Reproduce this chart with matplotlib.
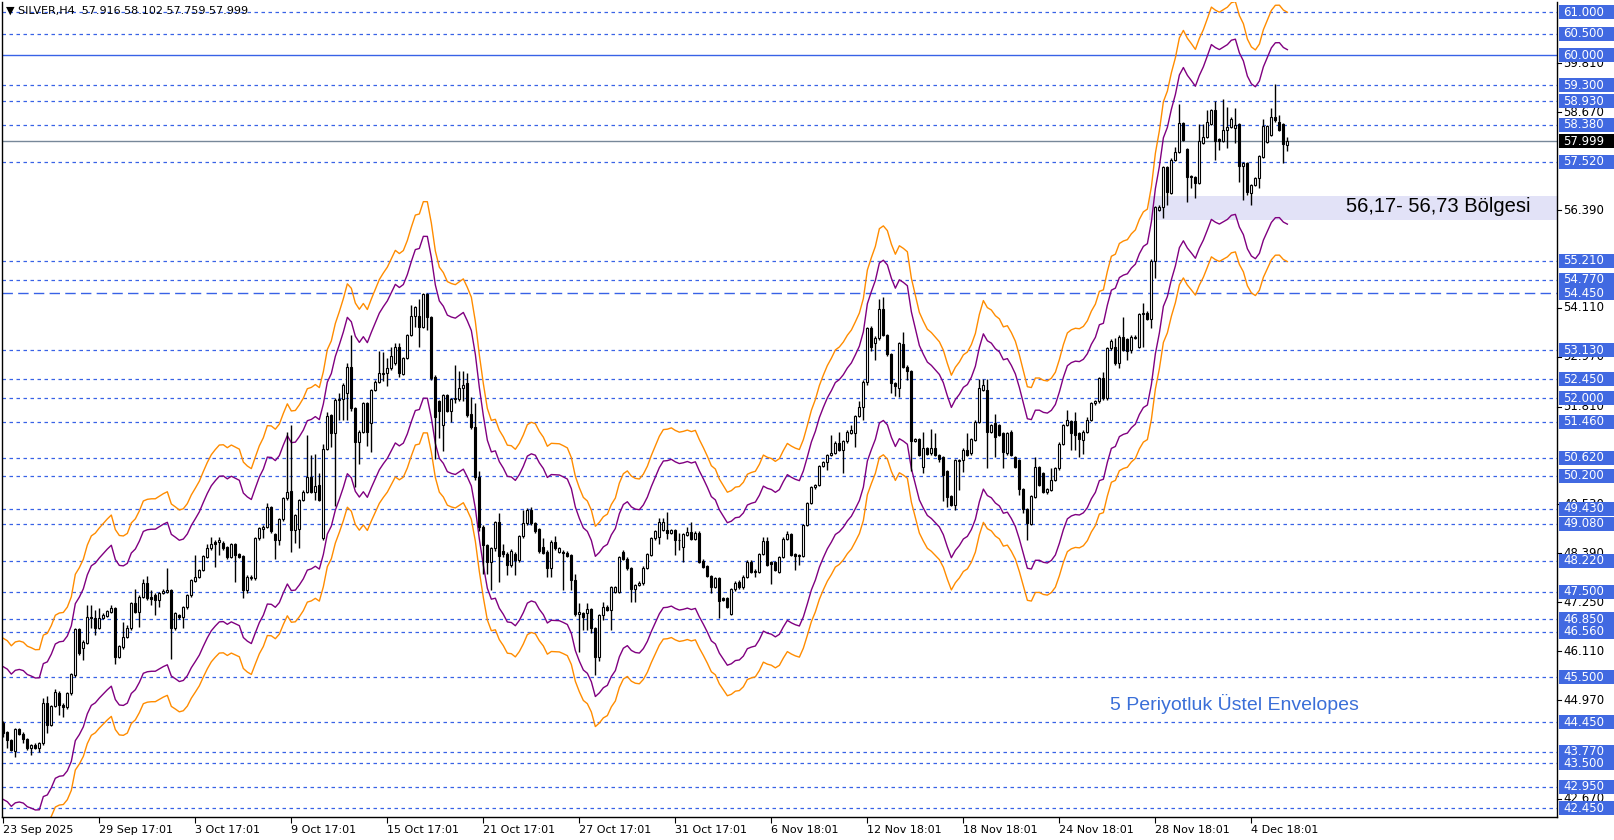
import numpy as np
import pandas as pd
import matplotlib
matplotlib.use("Agg")
import matplotlib.pyplot as plt
from matplotlib.patches import Rectangle
from matplotlib.transforms import blended_transform_factory

# SILVER H4 candles (bar 0 = 23 Sep 2025 17:01)
opens = [
    44.43, 44.23, 44.04, 43.79, 44.29, 44.19, 44.06, 43.85, 43.93, 43.86,
    43.96, 44.91, 44.39, 44.83, 45.13, 44.86, 44.80, 45.13, 45.56, 46.62,
    46.18, 46.31, 46.90, 46.88, 46.66, 46.88, 46.93, 47.03, 47.11, 45.97,
    46.20, 46.45, 46.64, 47.23, 47.03, 47.38, 47.69, 47.38, 47.43, 47.30,
    47.47, 47.50, 47.54, 46.64, 46.95, 46.91, 47.13, 47.42, 47.75, 47.85,
    48.00, 48.31, 48.51, 48.66, 48.66, 48.64, 48.54, 48.31, 48.61, 48.37,
    48.33, 47.54, 47.81, 47.81, 48.74, 48.95, 49.01, 49.46, 48.84, 48.70,
    49.18, 49.67, 49.85, 48.93, 48.95, 49.63, 49.83, 50.16, 49.81, 49.98,
    48.75, 50.82, 51.61, 51.19, 51.96, 51.98, 52.12, 52.73, 51.77, 50.99,
    51.23, 51.89, 51.42, 52.20, 52.39, 52.57, 52.60, 52.70, 52.82, 53.19,
    52.58, 52.94, 53.48, 53.92, 53.92, 53.67, 54.44, 53.89, 52.51, 51.93,
    51.38, 52.08, 51.72, 51.98, 51.98, 52.24, 52.35, 51.64, 51.34, 50.16,
    49.00, 48.58, 48.20, 48.51, 49.11, 48.45, 48.38, 48.12, 48.38, 48.24,
    48.79, 49.09, 49.40, 49.10, 48.95, 48.55, 48.43, 48.06, 48.66, 48.43,
    48.43, 48.41, 48.35, 47.78, 46.97, 47.00, 47.01, 47.09, 46.64, 45.97,
    46.95, 47.15, 47.07, 47.50, 47.50, 48.43, 48.27, 48.04, 47.55, 47.65,
    47.69, 48.06, 48.35, 48.74, 48.78, 48.93, 48.93, 48.86, 48.93, 48.69,
    48.53, 48.82, 48.88, 48.72, 48.87, 48.22, 48.10, 47.86, 47.61, 47.81,
    47.34, 47.34, 46.98, 47.55, 47.73, 47.60, 47.85, 48.20, 47.99, 47.96,
    48.37, 48.68, 48.19, 48.19, 47.96, 48.31, 48.73, 48.84, 48.37, 48.35,
    48.33, 49.05, 49.56, 49.93, 49.98, 50.43, 50.53, 50.68, 50.74, 50.97,
    50.80, 51.00, 51.20, 51.20, 51.59, 51.81, 52.39, 53.64, 53.30, 53.40,
    54.08, 53.48, 53.04, 52.35, 52.24, 53.27, 52.74, 52.64, 51.02, 51.05,
    50.41, 50.84, 50.72, 50.84, 50.68, 50.64, 50.30, 49.73, 49.52, 50.55,
    50.57, 50.81, 50.72, 51.03, 51.46, 52.20, 52.20, 51.23, 51.42, 51.38,
    51.19, 50.72, 51.23, 50.64, 50.57, 49.88, 49.42, 49.07, 49.71, 50.40,
    50.26, 49.81, 49.87, 50.10, 50.37, 50.94, 51.38, 51.48, 51.48, 51.19,
    51.03, 51.23, 51.50, 51.89, 51.93, 52.47, 52.00, 53.17, 53.19, 52.82,
    53.44, 53.38, 53.13, 53.42, 53.21, 53.97, 54.00, 53.85, 55.21, 56.39,
    56.47, 57.40, 56.80, 57.57, 57.75, 58.41, 57.81, 57.19, 57.16, 57.02,
    57.96, 58.10, 58.40, 58.72, 58.04, 58.01, 58.27, 58.34, 58.30, 58.40,
    57.41, 57.48, 56.78, 56.98, 57.13, 57.64, 57.99, 58.14, 58.57, 58.44,
    58.40, 57.916,
]
highs = [
    44.48, 44.25, 44.06, 44.31, 44.32, 44.22, 44.08, 43.95, 43.96, 43.99,
    45.01, 45.07, 44.86, 45.24, 45.18, 44.90, 45.16, 45.60, 46.65, 46.65,
    46.36, 47.19, 47.19, 47.07, 47.11, 47.00, 47.08, 47.19, 47.15, 46.25,
    46.78, 46.72, 47.26, 47.56, 47.42, 47.79, 47.86, 47.54, 47.46, 47.50,
    47.55, 48.04, 47.57, 47.02, 46.98, 47.16, 47.45, 47.80, 48.35, 48.03,
    48.36, 48.62, 48.76, 48.70, 48.76, 48.67, 48.57, 48.64, 48.64, 48.40,
    48.36, 47.88, 47.88, 48.77, 49.00, 49.04, 49.57, 49.49, 48.87, 49.21,
    49.70, 51.23, 51.38, 49.31, 49.66, 49.86, 51.15, 50.68, 50.71, 50.27,
    50.94, 51.69, 51.65, 52.00, 52.12, 52.35, 52.82, 53.48, 51.80, 51.26,
    51.92, 51.92, 52.23, 52.42, 53.11, 53.09, 52.94, 53.21, 53.30, 53.30,
    52.97, 53.51, 54.18, 54.16, 54.33, 54.47, 54.47, 53.92, 52.54, 51.96,
    52.11, 52.11, 52.02, 52.78, 52.65, 52.65, 52.59, 52.04, 51.90, 50.30,
    49.05, 48.62, 48.55, 49.15, 49.32, 48.60, 48.42, 48.50, 48.42, 48.82,
    49.40, 49.44, 49.48, 49.13, 48.98, 48.74, 48.46, 48.70, 48.79, 48.54,
    48.46, 48.44, 48.38, 47.92, 47.23, 47.03, 47.23, 47.12, 46.67, 46.98,
    47.26, 47.18, 47.63, 47.63, 48.34, 48.46, 48.30, 48.07, 47.68, 47.74,
    48.09, 48.40, 48.77, 48.93, 49.21, 49.21, 49.36, 48.96, 48.96, 48.86,
    48.86, 49.00, 49.11, 48.90, 48.90, 48.25, 48.13, 47.89, 47.84, 47.84,
    47.37, 47.37, 47.58, 47.74, 47.76, 47.88, 48.23, 48.23, 48.02, 48.40,
    48.78, 48.78, 48.22, 48.22, 48.34, 48.76, 48.90, 48.87, 48.40, 48.38,
    49.08, 49.59, 49.96, 50.01, 50.46, 50.54, 50.71, 51.15, 51.00, 51.21,
    51.03, 51.26, 51.38, 51.62, 51.93, 52.42, 53.67, 53.70, 53.45, 54.31,
    54.37, 53.51, 53.07, 52.38, 53.32, 53.56, 52.77, 52.67, 51.08, 51.08,
    51.21, 50.87, 51.30, 51.19, 50.71, 50.67, 50.33, 49.76, 50.60, 50.60,
    50.84, 51.19, 51.08, 51.49, 52.45, 52.45, 52.45, 51.41, 51.65, 51.41,
    51.22, 51.22, 51.26, 50.67, 50.60, 49.91, 49.45, 49.76, 50.64, 50.43,
    50.29, 49.91, 50.37, 50.40, 50.98, 51.41, 51.73, 51.51, 51.69, 51.22,
    51.26, 51.58, 51.92, 51.96, 52.50, 52.62, 53.20, 53.38, 53.40, 53.47,
    53.91, 53.41, 53.47, 53.47, 54.00, 54.22, 54.03, 55.24, 56.49, 56.50,
    57.43, 57.43, 57.60, 57.87, 58.86, 58.45, 57.84, 57.22, 57.19, 58.39,
    58.39, 58.72, 58.75, 58.94, 58.07, 58.97, 58.80, 58.57, 58.76, 58.43,
    57.51, 57.51, 57.01, 57.16, 57.68, 58.51, 58.38, 58.76, 59.33, 58.61,
    58.43, 58.102,
]
lows = [
    44.12, 43.85, 43.78, 43.65, 44.15, 43.96, 43.81, 43.69, 43.84, 43.75,
    43.93, 44.20, 44.36, 44.80, 44.62, 44.58, 44.77, 45.10, 45.50, 46.02,
    45.90, 46.28, 46.64, 46.49, 46.62, 46.85, 46.90, 47.00, 45.81, 45.94,
    46.15, 46.42, 46.60, 47.00, 46.68, 47.35, 47.30, 47.19, 46.95, 47.15,
    47.44, 47.47, 45.92, 46.60, 46.85, 46.64, 47.10, 47.38, 47.72, 47.82,
    47.97, 48.28, 48.48, 48.08, 48.35, 48.48, 48.27, 48.28, 47.73, 48.28,
    47.34, 47.47, 47.78, 47.78, 48.71, 48.74, 48.98, 48.87, 48.27, 48.59,
    49.15, 49.64, 48.43, 48.64, 48.51, 49.60, 49.80, 49.80, 49.63, 49.60,
    48.69, 50.79, 50.88, 49.49, 51.50, 51.50, 51.50, 51.70, 49.94, 50.47,
    51.20, 50.90, 50.76, 52.17, 52.36, 52.40, 52.30, 52.67, 52.79, 52.50,
    52.55, 52.91, 53.45, 53.67, 53.21, 53.64, 53.60, 52.44, 50.60, 51.07,
    50.78, 51.69, 51.45, 51.90, 51.95, 51.93, 51.58, 51.30, 50.10, 48.90,
    47.92, 47.90, 47.54, 48.45, 47.73, 48.30, 47.89, 48.08, 47.89, 48.20,
    48.75, 49.05, 49.05, 48.87, 48.40, 48.38, 47.85, 47.85, 48.48, 48.40,
    47.54, 48.30, 47.54, 46.94, 46.10, 46.60, 46.60, 46.53, 45.55, 45.87,
    46.83, 47.04, 46.60, 47.47, 47.47, 48.24, 48.00, 47.26, 47.26, 47.62,
    47.66, 48.03, 48.32, 48.70, 48.62, 48.90, 48.72, 48.83, 48.35, 48.47,
    48.20, 48.79, 48.69, 48.69, 48.17, 48.05, 47.83, 47.47, 47.58, 46.88,
    47.27, 47.12, 46.95, 47.52, 47.57, 47.57, 47.82, 47.93, 47.85, 47.93,
    48.35, 48.09, 47.67, 47.97, 47.93, 48.28, 48.70, 48.32, 48.00, 48.12,
    48.30, 49.02, 49.53, 49.90, 49.95, 50.40, 50.33, 50.65, 50.71, 50.77,
    50.27, 50.97, 51.17, 50.88, 51.56, 51.51, 52.31, 53.10, 52.90, 53.37,
    53.45, 53.00, 52.12, 52.06, 52.04, 52.71, 52.43, 50.30, 50.99, 50.65,
    50.27, 50.68, 50.69, 50.65, 50.52, 49.60, 49.46, 49.49, 49.40, 49.87,
    50.29, 50.65, 50.69, 51.00, 51.43, 52.17, 50.37, 51.20, 50.64, 51.12,
    50.37, 50.69, 50.65, 50.38, 49.75, 49.34, 48.70, 49.04, 49.68, 49.95,
    49.80, 49.78, 49.84, 50.07, 50.34, 50.92, 51.35, 50.80, 50.80, 50.64,
    50.71, 51.20, 51.47, 51.86, 51.90, 51.97, 51.97, 53.14, 52.79, 52.70,
    53.10, 52.90, 53.05, 53.39, 53.18, 53.21, 53.82, 53.64, 54.80, 56.36,
    56.20, 56.50, 56.77, 57.54, 57.72, 58.00, 56.57, 56.90, 56.67, 56.99,
    57.93, 58.07, 58.37, 57.56, 57.79, 57.98, 57.83, 58.31, 57.95, 57.05,
    56.63, 56.74, 56.51, 56.95, 56.90, 57.61, 57.96, 58.11, 58.45, 58.23,
    57.50, 57.759,
]
closes = [
    44.20, 44.04, 43.81, 44.29, 44.18, 44.06, 43.85, 43.92, 43.86, 43.96,
    44.91, 44.39, 44.83, 45.17, 44.86, 44.80, 45.13, 45.58, 46.62, 46.06,
    46.33, 46.90, 46.88, 46.66, 46.88, 46.95, 47.05, 47.11, 45.97, 46.22,
    46.45, 46.64, 47.23, 47.03, 47.38, 47.69, 47.36, 47.32, 47.30, 47.47,
    47.52, 47.54, 46.64, 46.99, 46.91, 47.13, 47.42, 47.77, 47.83, 48.00,
    48.33, 48.51, 48.62, 48.62, 48.69, 48.51, 48.30, 48.61, 48.35, 48.31,
    47.54, 47.85, 47.85, 48.74, 48.97, 49.01, 49.46, 48.90, 48.70, 49.18,
    49.67, 49.83, 48.93, 49.28, 49.63, 49.83, 50.16, 49.83, 49.96, 49.63,
    50.82, 51.60, 51.19, 51.96, 51.98, 52.31, 52.73, 51.77, 50.99, 51.23,
    51.89, 51.23, 52.20, 52.39, 52.59, 52.60, 52.70, 52.99, 53.19, 52.60,
    52.94, 53.48, 53.92, 54.13, 53.67, 54.44, 53.89, 52.47, 51.56, 51.72,
    52.08, 51.72, 51.99, 52.00, 52.24, 52.31, 51.61, 51.34, 50.16, 49.00,
    48.58, 48.20, 48.51, 49.11, 48.33, 48.38, 48.12, 48.45, 48.24, 48.79,
    49.09, 49.40, 49.10, 48.90, 48.45, 48.41, 48.06, 48.66, 48.51, 48.51,
    48.39, 48.33, 47.78, 46.97, 47.03, 46.90, 47.09, 46.64, 45.97, 46.95,
    47.15, 47.07, 47.60, 47.60, 48.31, 48.27, 48.04, 47.57, 47.65, 47.71,
    48.06, 48.37, 48.74, 48.90, 49.11, 49.13, 48.86, 48.93, 48.70, 48.70,
    48.83, 48.88, 48.72, 48.87, 48.20, 48.08, 47.86, 47.61, 47.81, 47.29,
    47.30, 47.15, 47.55, 47.71, 47.60, 47.85, 48.20, 47.96, 47.96, 48.37,
    48.68, 48.12, 48.14, 48.00, 48.31, 48.73, 48.84, 48.35, 48.33, 48.33,
    49.05, 49.56, 49.93, 49.98, 50.43, 50.51, 50.68, 50.74, 50.97, 50.80,
    51.00, 51.23, 51.27, 51.59, 51.81, 52.39, 53.64, 53.20, 53.40, 54.08,
    53.48, 53.04, 52.35, 52.28, 53.29, 52.74, 52.63, 51.02, 51.05, 50.68,
    50.84, 50.71, 50.84, 50.68, 50.58, 50.22, 49.71, 49.52, 50.57, 50.57,
    50.81, 50.68, 51.05, 51.46, 52.24, 52.31, 51.23, 51.38, 51.11, 51.15,
    50.76, 51.19, 50.68, 50.41, 49.88, 49.42, 49.09, 49.73, 50.40, 49.98,
    49.83, 49.88, 50.10, 50.37, 50.95, 51.38, 51.50, 51.19, 51.15, 51.05,
    51.23, 51.50, 51.89, 51.93, 52.47, 52.00, 53.17, 53.35, 52.82, 53.44,
    53.13, 53.11, 53.44, 53.44, 53.97, 54.00, 53.85, 55.21, 56.46, 56.47,
    57.40, 56.82, 57.57, 57.75, 58.41, 58.03, 57.17, 57.16, 57.02, 58.01,
    58.10, 58.45, 58.72, 58.01, 58.01, 58.27, 58.32, 58.51, 58.38, 57.41,
    57.48, 56.82, 56.98, 57.13, 57.65, 58.35, 58.35, 58.57, 58.48, 58.26,
    57.93, 57.999,
]

xtick_bars = [0, 24, 48, 72, 96, 120, 144, 168, 192, 216, 240, 264, 288, 312]
xtick_labels = ["23 Sep 2025", "29 Sep 17:01", "3 Oct 17:01", "9 Oct 17:01",
                "15 Oct 17:01", "21 Oct 17:01", "27 Oct 17:01", "31 Oct 17:01",
                "6 Nov 18:01", "12 Nov 18:01", "18 Nov 18:01", "24 Nov 18:01",
                "28 Nov 18:01", "4 Dec 18:01"]

# horizontal levels drawn on the chart
dashed_levels = [61.0, 60.5, 59.3, 58.93, 58.38, 57.52, 55.21, 54.77, 53.13,
                 52.45, 52.0, 51.46, 50.62, 50.2, 49.43, 49.08, 48.22, 47.5,
                 46.85, 46.56, 45.5, 44.45, 43.77, 43.5, 42.95, 42.45]
solid_level = 60.0
longdash_level = 54.45
last_price = 57.999
axis_ticks = [59.81, 58.67, 56.39, 54.11, 52.97, 51.81, 49.53, 48.39,
              47.25, 46.11, 44.97, 42.67]
zone = (56.17, 56.73)

W, H = 1614, 840
fig = plt.figure(figsize=(W / 100, H / 100), dpi=100)
left, right, top, bottom = 2, 1557, 2, 817
ax = fig.add_axes([left / W, 1 - bottom / H, (right - left) / W, (bottom - top) / H])

x = np.arange(len(closes))
o = np.array(opens); h = np.array(highs); l = np.array(lows); c = np.array(closes)

ax.set_xlim(-0.33, 388.4)
ax.set_ylim(42.245, 61.242)

line_blue = "#3862e6"
box_blue = "#4169e1"

for lv in dashed_levels:
    ax.axhline(lv, color=line_blue, lw=0.9, ls=(0, (2.8, 2.8)), zorder=1)
ax.axhline(solid_level, color=line_blue, lw=1.0, zorder=1)
ax.axhline(longdash_level, color=line_blue, lw=1.0, ls=(0, (7.5, 3.8)), zorder=1)
ax.axhline(last_price, color="#778899", lw=1.0, zorder=1)

# support zone
ax.add_patch(Rectangle((286.5, zone[0]), 388.4 - 286.5, zone[1] - zone[0],
                       facecolor="#e2e2f7", edgecolor="none", zorder=0.5))
ax.text(381.8, (zone[0] + zone[1]) / 2 + 0.03, "56,17- 56,73 Bölgesi",
        ha="right", va="center", fontsize=14.5, family="Liberation Sans",
        color="black", zorder=5)

# 5-period exponential envelopes
ema = pd.Series(closes).ewm(span=5, adjust=False).mean().values
for dev, col in [(0.05, "#ff8c00"), (0.035, "#800080")]:
    ax.plot(x, ema * (1 + dev), color=col, lw=1.0, zorder=2)
    ax.plot(x, ema * (1 - dev), color=col, lw=1.0, zorder=2)

# candles
ax.vlines(x, l, h, color="black", lw=1.0, zorder=3)
up = c >= o
body_lo = np.minimum(o, c)
body_h = np.maximum(np.abs(c - o), 0.012)
ax.bar(x[up], body_h[up], bottom=body_lo[up], width=0.55, color="white",
       edgecolor="black", linewidth=0.8, zorder=4)
ax.bar(x[~up], body_h[~up], bottom=body_lo[~up], width=0.55, color="black",
       edgecolor="black", linewidth=0.8, zorder=4)

ax.text(276.7, 44.88, "5 Periyotluk Üstel Envelopes", ha="left", va="center",
        fontsize=14, family="Liberation Sans", color="#3a6fd8", zorder=5)

# header
fig.text(6 / W, 1 - 11 / H, "\u25bc SILVER,H4  57.916 58.102 57.759 57.999",
         fontsize=8, va="center", ha="left", color="black")

# x axis
ax.set_xticks(xtick_bars)
ax.set_xticklabels(xtick_labels)
for lab in ax.get_xticklabels():
    lab.set_ha("left")
ax.tick_params(axis="x", direction="out", length=4, width=0.8, pad=2,
               labelsize=8)
ax.set_yticks([])
for s in ["left", "right", "bottom"]:
    ax.spines[s].set_color("black")
    ax.spines[s].set_linewidth(1.0)
ax.spines["top"].set_visible(False)

# right price scale
trans = blended_transform_factory(fig.transFigure, ax.transData)
px = 1 / 42.9
for t in axis_ticks:
    ax.plot([right / W, (right + 4) / W], [t, t], color="black", lw=0.8,
            transform=trans, clip_on=False)
    ax.text((right + 6) / W, t, f"{t:.3f}", transform=trans, fontsize=8.5,
            va="center", ha="left", color="black", clip_on=False)

label_levels = dashed_levels + [solid_level, longdash_level]
for lv in label_levels:
    ax.add_patch(Rectangle(((right + 2) / W, lv - 7 * px), (W - right - 2) / W, 14 * px,
                           transform=trans, facecolor=box_blue, edgecolor="none",
                           clip_on=False, zorder=6))
    ax.text((right + 6) / W, lv, f"{lv:.3f}", transform=trans, fontsize=8.5,
            va="center", ha="left", color="white", clip_on=False, zorder=7)

ax.add_patch(Rectangle(((right + 2) / W, last_price - 7 * px), (W - right - 2) / W, 14 * px,
                       transform=trans, facecolor="black", edgecolor="none",
                       clip_on=False, zorder=6))
ax.text((right + 6) / W, last_price, f"{last_price:.3f}", transform=trans, fontsize=8.5,
        va="center", ha="left", color="white", clip_on=False, zorder=7)

fig.savefig("out.png", dpi=100)
